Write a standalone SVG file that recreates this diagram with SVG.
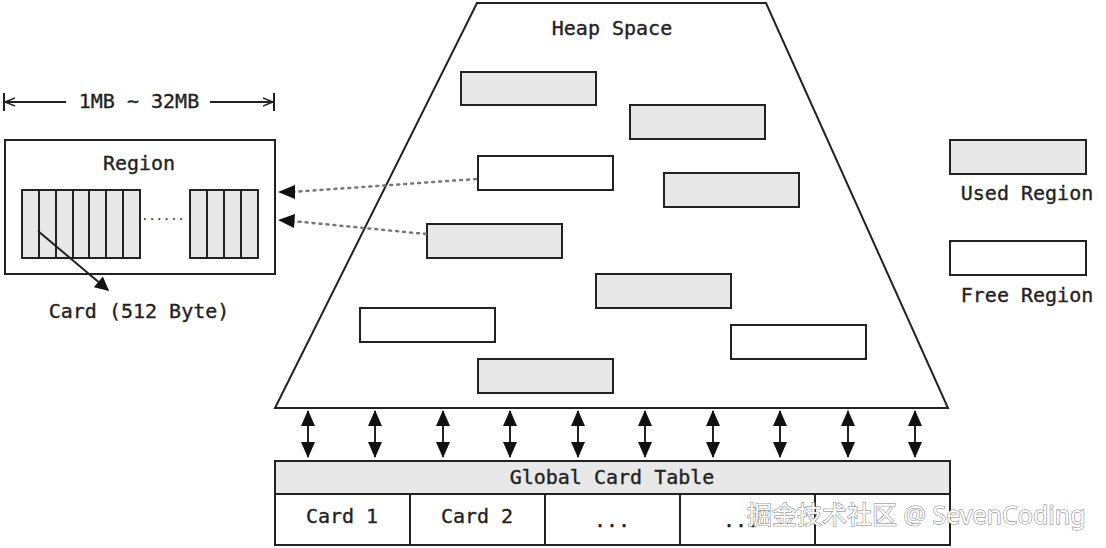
<svg xmlns="http://www.w3.org/2000/svg" width="1106" height="548" viewBox="0 0 1106 548">
<style>
.t{font-family:"DejaVu Sans Mono","Liberation Mono",monospace;font-size:20px;fill:#222;stroke:#222;stroke-width:0.35;text-anchor:middle}
.box{stroke:#222;stroke-width:2;fill:#fff}
.used{stroke:#222;stroke-width:2;fill:#e8e8e8}
.ln{stroke:#222;stroke-width:2;fill:none}
.dot{stroke:#777;stroke-width:2.5;stroke-dasharray:2 5;stroke-linecap:round;fill:none}
.wm{font-family:"Noto Sans","Noto Sans CJK SC",sans-serif;font-size:25px;fill:#fff;stroke:#777;stroke-width:1;paint-order:stroke}
</style>
<defs>
<marker id="ah2" viewBox="0 0 10 10" refX="9" refY="5" markerWidth="14" markerHeight="14" markerUnits="userSpaceOnUse" orient="auto-start-reverse"><path d="M0,0L10,5L0,10z" fill="#111"/></marker>
<marker id="dv" viewBox="0 0 16 14" refX="15" refY="7" markerWidth="16" markerHeight="14" markerUnits="userSpaceOnUse" orient="auto-start-reverse"><path d="M0,0L16,7L0,14z" fill="#111"/></marker>
<marker id="oa" viewBox="0 0 10 10" refX="10" refY="5" markerWidth="10" markerHeight="10" markerUnits="userSpaceOnUse" orient="auto"><path d="M0,1L10,5L0,9" fill="none" stroke="#222" stroke-width="1.5"/></marker>
</defs>

<g id="heap">
<polygon class="box" points="477,3 766,3 948,408 275,408"/>
<text class="t" x="612" y="35">Heap Space</text>
<rect class="used" x="461" y="72" width="135" height="33"/>
<rect class="used" x="630" y="105" width="135" height="34"/>
<rect class="box" x="478" y="156" width="135" height="34"/>
<rect class="used" x="664" y="173" width="135" height="34"/>
<rect class="used" x="427" y="224" width="135" height="34"/>
<rect class="used" x="596" y="274" width="135" height="34"/>
<rect class="box" x="360" y="308" width="135" height="34"/>
<rect class="box" x="731" y="325" width="135" height="34"/>
<rect class="used" x="478" y="359" width="135" height="34"/>
</g>

<g id="legend">
<rect class="used" x="950" y="140" width="136" height="34"/>
<text class="t" x="1027" y="200">Used Region</text>
<rect class="box" x="950" y="241" width="136" height="34"/>
<text class="t" x="1027" y="302">Free Region</text>
</g>

<g id="size">
<line class="ln" x1="4" y1="93" x2="4" y2="111"/>
<line class="ln" x1="274" y1="93" x2="274" y2="111"/>
<line class="ln" x1="66" y1="102" x2="5" y2="102" marker-end="url(#oa)"/>
<line class="ln" x1="210" y1="102" x2="273" y2="102" marker-end="url(#oa)"/>
<text class="t" x="139" y="108">1MB ~ 32MB</text>
</g>

<g id="region">
<rect class="box" x="5" y="140" width="270" height="134"/>
<text class="t" x="139" y="170">Region</text>
<rect class="used" x="22" y="190" width="118" height="68"/>
<path class="ln" d="M39,190V258M56,190V258M73,190V258M89,190V258M106,190V258M123,190V258"/>
<text class="t" x="163" y="220" style="font-size:12px;stroke-width:0">......</text>
<rect class="used" x="190" y="190" width="68" height="68"/>
<path class="ln" d="M207,190V258M224,190V258M241,190V258"/>
<line class="ln" x1="38" y1="231" x2="108" y2="290" marker-end="url(#ah2)"/>
<text class="t" x="139" y="318">Card (512 Byte)</text>
</g>

<g id="table">
<rect class="used" x="275" y="461" width="675" height="33"/>
<text class="t" x="612" y="484">Global Card Table</text>
<rect class="box" x="275" y="494" width="675" height="51"/>
<path class="ln" d="M410,494V545M545,494V545M680,494V545M815,494V545"/>
<text class="t" x="342" y="523">Card 1</text>
<text class="t" x="477" y="523">Card 2</text>
<text class="t" x="612" y="527">...</text>
<text class="t" x="741" y="527">...</text>
</g>

<g id="connectors">
<line class="dot" x1="476" y1="179" x2="292" y2="192"/>
<line class="dot" x1="426" y1="234" x2="292" y2="221"/>
<path d="M278,192L295,185L295,199z" fill="#111"/>
<path d="M278,220L295,214L294,228z" fill="#111"/>
<g class="ln" stroke-width="3">
<line x1="308" y1="411" x2="308" y2="457" marker-start="url(#dv)" marker-end="url(#dv)"/>
<line x1="375" y1="411" x2="375" y2="457" marker-start="url(#dv)" marker-end="url(#dv)"/>
<line x1="443" y1="411" x2="443" y2="457" marker-start="url(#dv)" marker-end="url(#dv)"/>
<line x1="510" y1="411" x2="510" y2="457" marker-start="url(#dv)" marker-end="url(#dv)"/>
<line x1="578" y1="411" x2="578" y2="457" marker-start="url(#dv)" marker-end="url(#dv)"/>
<line x1="645" y1="411" x2="645" y2="457" marker-start="url(#dv)" marker-end="url(#dv)"/>
<line x1="713" y1="411" x2="713" y2="457" marker-start="url(#dv)" marker-end="url(#dv)"/>
<line x1="780" y1="411" x2="780" y2="457" marker-start="url(#dv)" marker-end="url(#dv)"/>
<line x1="848" y1="411" x2="848" y2="457" marker-start="url(#dv)" marker-end="url(#dv)"/>
<line x1="915" y1="411" x2="915" y2="457" marker-start="url(#dv)" marker-end="url(#dv)"/>
</g>
</g>

<text class="wm" x="747" y="524">掘金技术社区 @ SevenCoding</text>
</svg>
